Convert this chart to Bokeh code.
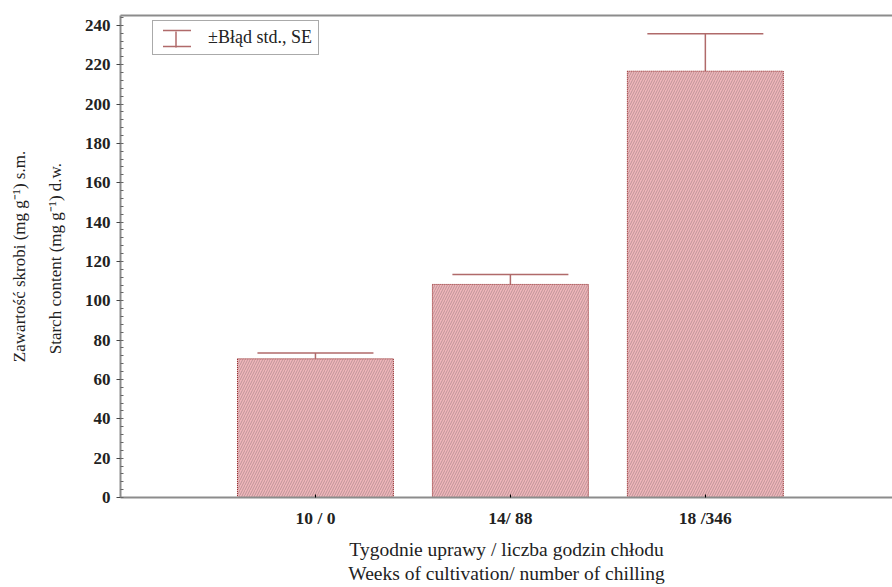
import math
from bokeh.plotting import figure
from bokeh.models import (Range1d, LinearAxis, FixedTicker, SingleIntervalTicker,
                          Whisker, TeeHead, ColumnDataSource, Legend, LegendItem)
from bokeh.embed import file_html
from bokeh.resources import INLINE

# ---- data ----
categories = ["10 / 0", "14/ 88", "18 /346"]
positions = [1, 2, 3]
starch_mean = [70.5, 108.3, 216.7]
starch_se = [2.9, 5.1, 19.0]

x_title_1 = "Tygodnie uprawy / liczba godzin chłodu"
x_title_2 = "Weeks of cultivation/ number of chilling"
y_title_1 = "Zawartość skrobi (mg g⁻¹) s.m."
y_title_2 = "Starch content  (mg g⁻¹) d.w."
legend_label = "±Błąd std., SE"

FONT = "Liberation Serif"
ERR = "#b06a6a"
AXIS = "#8c8c8c"
TXT = "#222222"

src = ColumnDataSource(dict(
    x=positions,
    mean=starch_mean,
    upper=[m + s for m, s in zip(starch_mean, starch_se)],
))

p = figure(width=892, height=587, output_backend="svg", toolbar_location=None,
           x_range=Range1d(0, 3.96), y_range=Range1d(0, 245),
           min_border_left=120, min_border_right=0, min_border_top=15,
           min_border_bottom=90)
p.xgrid.visible = False
p.ygrid.visible = False
p.outline_line_color = None
p.background_fill_color = "white"
p.border_fill_color = "white"

p.vbar(x="x", top="mean", width=0.8, bottom=0, source=src,
       fill_color="#f0b6bb", line_color="#8b1a1a", line_width=1, line_dash="1 1",
       hatch_pattern="/", hatch_color="#6e6060", hatch_scale=5, hatch_weight=0.6,
       hatch_alpha=0.65)

w = Whisker(base="x", lower="mean", upper="upper", dimension="height", source=src,
            line_color=ERR, line_width=1.5, lower_head=None,
            upper_head=TeeHead(size=116, line_color=ERR, line_width=1.5))
p.add_layout(w)

# x axis
xa = p.xaxis[0]
xa.ticker = FixedTicker(ticks=positions)
xa.major_label_overrides = {pos: lab for pos, lab in zip(positions, categories)}
xa.major_label_text_font = FONT
xa.major_label_text_font_style = "bold"
xa.major_label_text_font_size = "17.5px"
xa.major_label_text_color = TXT
xa.major_label_standoff = 10
xa.major_tick_in = 3
xa.major_tick_out = 0
xa.minor_tick_line_color = None
xa.axis_line_color = AXIS
xa.axis_line_width = 2
xa.axis_label = x_title_1
xa.axis_label_text_font = FONT
xa.axis_label_text_font_style = "normal"
xa.axis_label_text_font_size = "19.5px"
xa.axis_label_text_color = TXT
xa.axis_label_standoff = 8

xa2 = LinearAxis(ticker=FixedTicker(ticks=[]), axis_line_color=None,
                 major_tick_line_color=None, minor_tick_line_color=None,
                 axis_label=x_title_2, axis_label_text_font=FONT,
                 axis_label_text_font_style="normal", axis_label_text_font_size="19.5px",
                 axis_label_text_color=TXT, axis_label_standoff=0)
p.add_layout(xa2, "below")

# top border line
xt = LinearAxis(ticker=FixedTicker(ticks=[]), axis_line_color=AXIS,
                axis_line_width=2, major_tick_line_color=None,
                minor_tick_line_color=None, major_label_standoff=0)
p.add_layout(xt, "above")

# y axis
ya = p.yaxis[0]
ya.ticker = SingleIntervalTicker(interval=20, num_minor_ticks=5)
ya.major_label_text_font = FONT
ya.major_label_text_font_style = "bold"
ya.major_label_text_font_size = "17px"
ya.major_label_text_color = TXT
ya.major_label_standoff = 6
ya.major_tick_out = 4
ya.major_tick_in = 0
ya.minor_tick_in = 3
ya.minor_tick_out = 0
ya.major_tick_line_color = "#444"
ya.minor_tick_line_color = "#666"
ya.axis_line_color = AXIS
ya.axis_line_width = 2
ya.axis_label = y_title_2
ya.axis_label_text_font = FONT
ya.axis_label_text_font_style = "normal"
ya.axis_label_text_font_size = "17px"
ya.axis_label_text_color = TXT
ya.axis_label_standoff = 17

ya2 = LinearAxis(ticker=FixedTicker(ticks=[]), axis_line_color=None,
                 major_tick_line_color=None, minor_tick_line_color=None,
                 axis_label=y_title_1, axis_label_text_font=FONT,
                 axis_label_text_font_style="normal", axis_label_text_font_size="17px",
                 axis_label_text_color=TXT, axis_label_standoff=14)
p.add_layout(ya2, "left")

# legend: caps from a dashed rect outline (top and bottom edges only)
nan = float("nan")
LEG_X, LEG_Y, PAD, GW, GH = 32, 442, 6, 35, 20
r_caps = p.rect(x=[nan], y=[nan], width=1, height=1, fill_color=None,
                line_color=ERR, line_width=1.5, line_dash="28 16")
legend = Legend(items=[LegendItem(label=legend_label, renderers=[r_caps])],
                location=(LEG_X, LEG_Y), glyph_width=GW, glyph_height=GH, padding=PAD,
                margin=0, label_standoff=14, border_line_color="#555555",
                border_line_width=1.5, background_fill_color=None,
                label_text_font=FONT, label_text_font_size="18px",
                label_text_color=TXT)
p.add_layout(legend)

# legend icon stem (frame-relative screen units)
stem_src = ColumnDataSource(dict(
    b=[LEG_X + PAD + GW / 2],
    lo=[LEG_Y + PAD + GH * 0.1],
    hi=[LEG_Y + PAD + GH * 0.9],
))
stem = Whisker(base="b", lower="lo", upper="hi", dimension="height", source=stem_src,
               base_units="screen", lower_units="screen", upper_units="screen",
               line_color=ERR, line_width=1.5, lower_head=None, upper_head=None,
               level="overlay")
p.add_layout(stem)

open("out.html", "w").write(file_html(p, INLINE))
